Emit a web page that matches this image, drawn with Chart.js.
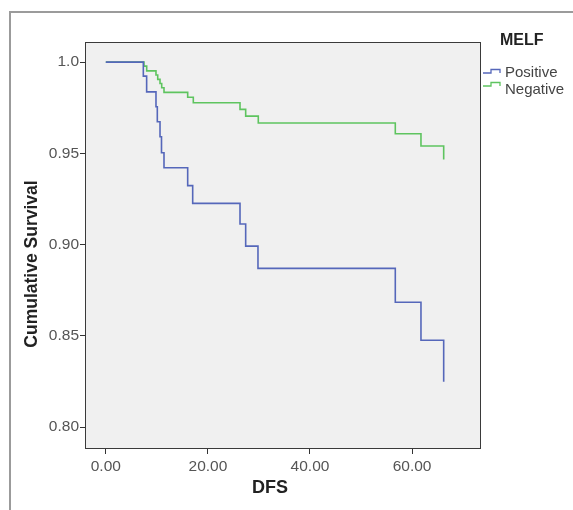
<!DOCTYPE html>
<html>
<head>
<meta charset="utf-8">
<title>MELF - DFS survival</title>
<script src="https://cdn.jsdelivr.net/npm/chart.js@4.4.1/dist/chart.umd.min.js"></script>
<style>
  body { margin: 0; background: #fff; overflow: hidden; }
  #wrap { position: relative; width: 573px; height: 510px; }
  #frame { position: absolute; left: 9px; top: 11px; width: 700px; height: 700px;
           border-top: 2px solid #9b9b9b; border-left: 2px solid #9b9b9b; }
  #chart { position: absolute; left: 0; top: 0; }
</style>
</head>
<body>
<div id="wrap">
  <div id="frame"></div>
  <canvas id="chart" width="573" height="510"></canvas>
</div>
<script>
// ==========================
// DATA (Kaplan-Meier steps)
// ==========================
const posTimes = [0, 7.35, 8.0, 9.83, 10.09, 10.62, 10.91, 11.4, 16.04, 17.02, 26.29, 27.4, 29.81, 56.71, 61.74, 66.19];
const posSurv  = [1.0, 0.9923, 0.9837, 0.9755, 0.9673, 0.9591, 0.9503, 0.9421, 0.9323, 0.9226, 0.9113, 0.8992, 0.887, 0.8684, 0.8476, 0.8249];

const negTimes = [0, 7.48, 8.01, 9.83, 10.17, 10.62, 10.95, 11.4, 16.04, 17.14, 26.29, 27.4, 29.87, 56.71, 61.74, 66.19];
const negSurv  = [1.0, 0.9978, 0.9952, 0.9929, 0.9905, 0.9883, 0.9859, 0.9834, 0.9807, 0.9777, 0.9741, 0.9704, 0.9666, 0.9607, 0.954, 0.9467];

const seriesNames = ["Positive", "Negative"];
const legendTitle = "MELF";
const xTicks = [0, 20, 40, 60];
const yTicks = [0.80, 0.85, 0.90, 0.95, 1.0];
const yTickLabels = ["0.80", "0.85", "0.90", "0.95", "1.0"];
const xTitle = "DFS";
const yTitle = "Cumulative Survival";

const BLUE = "#5567ba";
const GREEN = "#5ec45f";

const toPoints = (ts, ss) => ts.map((t, i) => ({ x: t, y: ss[i] }));

// ==========================
// PLUGINS
// ==========================
const plotBox = {
  id: "plotBox",
  beforeDraw(chart) {
    const { ctx, chartArea: a } = chart;
    ctx.save();
    ctx.fillStyle = "#f0f0f0";
    ctx.fillRect(a.left, a.top, a.right - a.left, a.bottom - a.top);
    ctx.restore();
  },
  afterDatasetsDraw(chart) {
    const { ctx, chartArea: a } = chart;
    ctx.save();
    ctx.strokeStyle = "#3a3a3a";
    ctx.lineWidth = 1;
    ctx.strokeRect(Math.round(a.left) - 0.5, Math.round(a.top) + 0.5,
                   Math.round(a.right - a.left), Math.round(a.bottom - a.top));
    ctx.restore();
  }
};

// legend + axis titles, placed like the SPSS output
const extraText = {
  id: "extraText",
  afterDraw(chart) {
    const ctx = chart.ctx;
    ctx.save();
    ctx.textBaseline = "middle";

    ctx.fillStyle = "#222";
    ctx.font = "bold 16px 'Liberation Sans', Arial, sans-serif";
    ctx.textAlign = "left";
    ctx.fillText(legendTitle, 500, 41);

    const colors = [BLUE, GREEN];
    const rows = [{ icon: 73, text: 73 }, { icon: 86, text: 90 }];
    ctx.font = "15px 'Liberation Sans', Arial, sans-serif";
    rows.forEach((r, i) => {
      ctx.strokeStyle = colors[i];
      ctx.lineWidth = 1.3;
      ctx.beginPath();
      ctx.moveTo(483, r.icon);
      ctx.lineTo(491, r.icon);
      ctx.lineTo(491, r.icon - 3.5);
      ctx.lineTo(500, r.icon - 3.5);
      ctx.lineTo(500, r.icon);
      ctx.stroke();
      ctx.fillStyle = "#444";
      ctx.fillText(seriesNames[i], 505, r.text);
    });

    ctx.fillStyle = "#222";
    ctx.textAlign = "center";
    ctx.font = "bold 18px 'Liberation Sans', Arial, sans-serif";
    ctx.fillText(xTitle, 270, 488);

    ctx.translate(32, 264);
    ctx.rotate(-Math.PI / 2);
    ctx.font = "bold 17.5px 'Liberation Sans', Arial, sans-serif";
    ctx.fillText(yTitle, 0, 0);
    ctx.restore();
  }
};

// ==========================
// CHART
// ==========================
const tickFont = { family: "'Liberation Sans', Arial, sans-serif", size: 15.5 };

new Chart(document.getElementById("chart"), {
  type: "line",
  data: {
    datasets: [
      { label: seriesNames[0], data: toPoints(posTimes, posSurv), borderColor: BLUE,
        borderWidth: 1.6, stepped: true, pointRadius: 0, fill: false },
      { label: seriesNames[1], data: toPoints(negTimes, negSurv), borderColor: GREEN,
        borderWidth: 1.6, stepped: true, pointRadius: 0, fill: false }
    ]
  },
  options: {
    responsive: false,
    animation: false,
    layout: { padding: { left: 0, top: 42, right: 92, bottom: 0 } },
    plugins: { legend: { display: false }, tooltip: { enabled: false } },
    scales: {
      x: {
        type: "linear",
        min: -3.88,
        max: 73.5,
        afterFit: s => { s.height = 62; },
        afterBuildTicks: s => { s.ticks = xTicks.map(v => ({ value: v })); },
        border: { display: false },
        grid: { drawOnChartArea: false, tickLength: 6, color: "#333" },
        ticks: { font: tickFont, color: "#555", padding: 3, maxRotation: 0,
                 callback: v => v.toFixed(2) }
      },
      y: {
        type: "linear",
        min: 0.7886,
        max: 1.011,
        afterFit: s => { s.width = 86; },
        afterBuildTicks: s => { s.ticks = yTicks.map(v => ({ value: v })); },
        border: { display: false },
        grid: { drawOnChartArea: false, tickLength: 6, color: "#333" },
        ticks: { font: tickFont, color: "#555", padding: 1,
                 callback: (v, i) => yTickLabels[i] }
      }
    }
  },
  plugins: [plotBox, extraText]
});
</script>
</body>
</html>
